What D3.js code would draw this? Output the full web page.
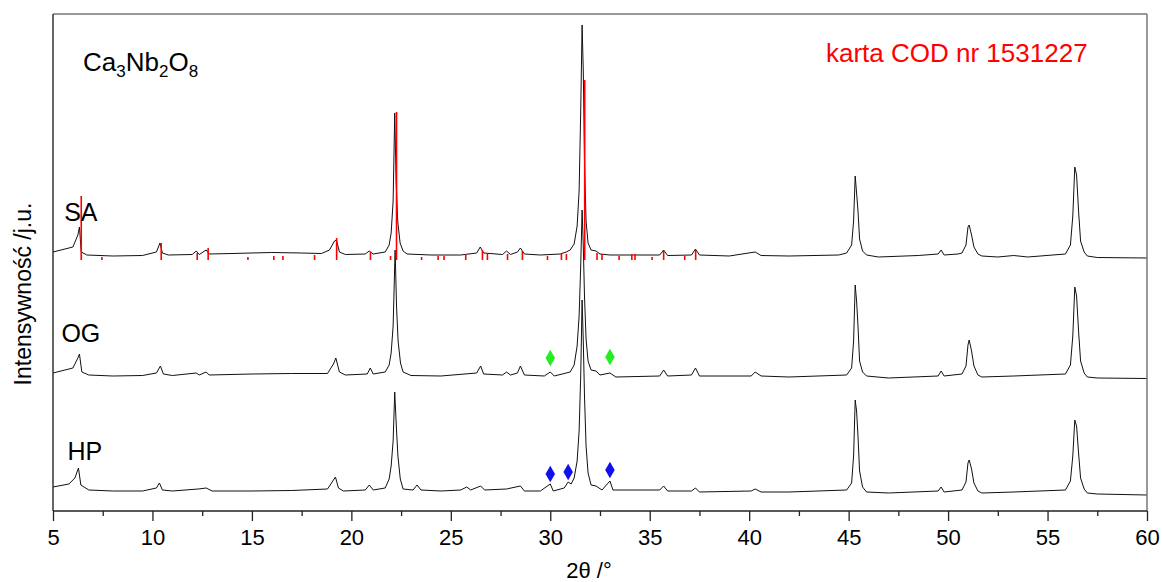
<!DOCTYPE html>
<html lang="pl">
<head>
<meta charset="UTF-8">
<title>Ca3Nb2O8 XRD</title>
<script src="https://cdnjs.cloudflare.com/ajax/libs/d3/7.8.5/d3.min.js"></script>
<style>
    body { margin: 0; background: #fff; }
    svg { display: block; font-family: 'Liberation Sans', Arial, sans-serif; }
    .trace { fill: none; stroke: #111; stroke-width: 1; stroke-linejoin: round; }
    .stick { stroke: #ff0000; stroke-width: 1.6; }
    .axis text { font-size: 22px; fill: #000; font-family: 'Liberation Sans', Arial, sans-serif; }
    .axis path, .axis line { stroke: #222; stroke-width: 1.3; }
</style>
</head>
<body>
<div id="chart"></div>
<script>
// x: 2theta in degrees, y: intensity in arbitrary units (stacked as in the figure)
const xTicks = [5, 10, 15, 20, 25, 30, 35, 40, 45, 50, 55, 60];
const xMinorTicks = [7.5, 12.5, 17.5, 22.5, 27.5, 32.5, 37.5, 42.5, 47.5, 52.5, 57.5];

const sampleNames = ["SA", "OG", "HP"];

const traceSA = [
    [5, 259], [6.0, 264], [6.25, 276], [6.33, 284], [6.42, 259], [6.7, 256], [8, 255], [9.5, 255.5],
    [10.2, 259], [10.38, 268], [10.5, 258], [10.8, 256], [12.0, 256.5], [12.2, 260], [12.35, 256.5],
    [12.7, 261], [12.85, 257], [14, 257.5], [16, 258.5], [17.5, 258], [18.5, 257.5], [18.9, 261],
    [19.15, 270], [19.25, 271], [19.4, 259], [19.7, 256.5], [20.7, 257], [20.9, 260], [21.1, 257],
    [21.7, 259], [21.9, 266], [22.0, 278], [22.1, 310], [22.18, 398], [22.25, 330], [22.33, 290],
    [22.45, 268], [22.6, 260], [22.8, 257], [24, 256], [25.5, 256], [26.3, 258], [26.48, 264],
    [26.65, 258], [27.6, 256.5], [27.8, 260], [28.0, 256.5], [28.35, 259], [28.5, 263], [28.7, 257],
    [29.5, 256], [30.5, 257], [30.8, 259], [31.0, 261], [31.2, 267], [31.35, 285], [31.45, 320],
    [31.53, 400], [31.6, 486], [31.66, 440], [31.72, 350], [31.8, 290], [31.9, 268], [32.05, 261],
    [32.3, 260], [32.5, 257], [33, 256], [35.5, 256], [35.7, 261], [35.9, 255.5], [37.1, 256],
    [37.3, 262], [37.5, 256], [39, 255], [40.3, 259], [40.6, 255.5], [42, 255], [44.5, 256],
    [44.9, 258], [45.15, 266], [45.25, 290], [45.33, 335], [45.4, 318], [45.47, 300], [45.55, 272],
    [45.7, 260], [45.9, 256], [46.5, 254], [48.5, 255.5], [49.5, 257], [49.65, 261], [49.8, 256],
    [50.5, 257], [50.7, 258], [50.9, 266], [51.0, 284], [51.06, 286], [51.18, 276], [51.3, 264],
    [51.5, 257], [51.7, 255], [52.5, 254], [53.3, 255.5], [54, 254], [55.9, 257], [56.15, 266],
    [56.27, 295], [56.37, 344], [56.46, 336], [56.56, 300], [56.66, 270], [56.84, 259], [57.0, 255],
    [57.5, 253.5], [60, 253]
];

const traceOG = [
    [5, 138], [6.0, 143], [6.25, 153], [6.33, 157], [6.45, 139], [6.8, 136], [8, 135], [9.5, 135.5],
    [10.2, 138], [10.4, 145], [10.55, 137], [11, 135.5], [12.2, 138], [12.35, 136], [12.7, 139],
    [12.85, 136], [15, 137], [17, 137.5], [18.8, 137.5], [19.1, 147], [19.22, 153], [19.4, 139],
    [19.7, 136], [20.8, 137], [20.95, 143], [21.1, 137], [21.7, 139], [21.9, 146], [22.0, 158],
    [22.1, 185], [22.2, 261], [22.27, 205], [22.35, 170], [22.47, 148], [22.6, 139], [23, 135.5],
    [24.5, 135], [26.3, 138], [26.5, 145], [26.65, 137], [27.6, 136], [27.8, 139], [28.0, 136],
    [28.35, 138], [28.5, 145], [28.7, 136], [29.7, 135], [30.0, 139], [30.2, 135], [31.0, 139],
    [31.2, 146], [31.35, 165], [31.45, 195], [31.53, 245], [31.6, 301], [31.66, 265], [31.72, 215],
    [31.8, 172], [31.9, 150], [32.05, 141], [32.3, 140], [32.5, 136], [33.0, 138], [33.3, 134],
    [35.5, 135], [35.7, 141], [35.9, 135], [37.1, 136], [37.3, 143], [37.5, 135], [40.1, 135],
    [40.3, 139], [40.6, 135], [42, 134], [44.9, 136], [45.15, 143], [45.25, 170], [45.33, 226],
    [45.4, 210], [45.47, 185], [45.55, 150], [45.7, 139], [45.9, 135], [47, 133], [49.5, 135],
    [49.65, 140], [49.8, 135], [50.7, 137], [50.9, 145], [51.0, 166], [51.06, 171], [51.18, 160],
    [51.3, 145], [51.5, 136], [51.7, 134], [53.3, 135], [55.9, 137], [56.15, 146], [56.27, 175],
    [56.37, 224], [56.46, 215], [56.56, 180], [56.66, 150], [56.84, 138], [57.0, 134], [57.5, 133],
    [60, 132.5]
];

const traceHP = [
    [5, 24], [5.8, 27], [6.1, 33], [6.28, 43], [6.4, 26], [6.8, 21], [8, 20], [9.5, 20],
    [10.2, 23], [10.35, 28], [10.5, 21], [11, 20], [12.3, 22], [12.7, 23], [13, 20], [15, 20],
    [17, 20.5], [18.8, 22], [19.1, 31], [19.2, 34], [19.35, 23], [19.6, 20], [20.7, 21], [20.9, 26],
    [21.1, 21], [21.7, 23], [21.9, 32], [22.0, 45], [22.1, 70], [22.18, 119], [22.26, 85],
    [22.34, 55], [22.46, 32], [22.6, 22], [23.1, 21], [23.3, 26], [23.5, 21], [24.5, 20],
    [25.5, 21], [25.8, 24], [26.0, 21], [26.5, 25], [26.7, 21], [27.8, 22], [28.5, 25], [28.7, 20],
    [29.5, 20], [30.0, 27], [30.15, 20], [30.7, 23], [30.9, 29], [31.05, 27], [31.2, 33],
    [31.35, 50], [31.45, 80], [31.53, 135], [31.6, 211], [31.66, 170], [31.72, 115], [31.8, 65],
    [31.9, 38], [32.05, 26], [32.3, 25], [32.6, 21], [33.0, 30], [33.15, 21], [35.5, 21],
    [35.7, 25], [35.9, 20], [37.1, 20], [37.3, 23], [37.5, 19], [40.1, 20], [40.3, 22], [40.6, 19],
    [42, 19], [44.9, 21], [45.15, 28], [45.25, 55], [45.33, 111], [45.4, 100], [45.47, 75],
    [45.55, 40], [45.7, 24], [45.9, 19], [47, 18], [49.5, 20], [49.65, 24], [49.8, 19], [50.7, 21],
    [50.9, 29], [51.0, 48], [51.06, 51], [51.18, 42], [51.3, 28], [51.5, 20], [51.7, 18], [53.3, 19],
    [55.9, 21], [56.15, 30], [56.27, 55], [56.37, 91], [56.46, 85], [56.56, 58], [56.66, 33],
    [56.84, 22], [57.0, 18], [57.5, 17], [60, 16]
];

// COD card 1531227 reflections: [2theta, top of stick]; sticks start at stickBase
const stickBase = 251;
const codSticks = [
    [6.42, 315], [7.46, 254], [10.44, 268], [12.25, 258], [12.8, 263], [14.8, 254], [16.1, 255],
    [16.56, 255], [18.15, 256], [19.26, 273], [20.96, 259], [21.97, 255], [22.27, 399], [23.53, 254],
    [24.36, 255], [24.66, 255], [25.75, 257], [26.59, 261], [26.84, 257], [27.85, 257], [28.6, 260],
    [29.86, 255], [30.56, 257], [30.81, 257], [31.73, 431], [32.35, 258], [32.6, 257], [33.46, 255],
    [34.1, 257], [34.26, 257], [35.12, 254], [35.7, 260], [36.76, 255], [37.31, 261]
];

// extra phase markers
const greenMarks = [[30.0, 153], [33.0, 154]];
const blueMarks = [[30.0, 37], [30.9, 39], [33.0, 41]];

const labelPos = [[6.4, 290], [6.4, 169], [6.6, 51]];

const width = 1162, height = 582;
const margin = { left: 53, right: 15, top: 14, bottom: 71 };

const svg = d3.select("#chart").append("svg")
    .attr("width", width)
    .attr("height", height);

svg.append("rect").attr("width", width).attr("height", height).attr("fill", "#fff");

const x = d3.scaleLinear().domain([5, 60]).range([margin.left, width - margin.right]);
const y = d3.scaleLinear().domain([0, 497]).range([height - margin.bottom, margin.top]);

svg.append("defs").append("clipPath").attr("id", "plotClip")
    .append("rect")
    .attr("x", margin.left).attr("y", margin.top)
    .attr("width", width - margin.left - margin.right)
    .attr("height", height - margin.top - margin.bottom);

const plot = svg.append("g").attr("clip-path", "url(#plotClip)");

const line = d3.line().x(d => x(d[0])).y(d => y(d[1]));

[traceHP, traceOG, traceSA].forEach(t => {
    plot.append("path").attr("class", "trace").attr("d", line(t));
});

plot.selectAll("line.stick")
    .data(codSticks)
    .enter().append("line")
    .attr("class", "stick")
    .attr("x1", d => x(d[0])).attr("x2", d => x(d[0]))
    .attr("y1", y(stickBase)).attr("y2", d => y(d[1]));

const diamond = d3.symbol().type(d3.symbolDiamond).size(78);
plot.selectAll("path.green")
    .data(greenMarks)
    .enter().append("path")
    .attr("class", "green")
    .attr("d", diamond)
    .attr("fill", "#22ee22")
    .attr("transform", d => `translate(${x(d[0])},${y(d[1])})`);
plot.selectAll("path.blue")
    .data(blueMarks)
    .enter().append("path")
    .attr("class", "blue")
    .attr("d", diamond)
    .attr("fill", "#1010ee")
    .attr("transform", d => `translate(${x(d[0])},${y(d[1])})`);

// axes
const xAxis = d3.axisBottom(x).tickValues(xTicks).tickSize(10).tickPadding(8).tickFormat(d3.format("d"));
const gx = svg.append("g").attr("class", "axis")
    .attr("transform", `translate(0,${height - margin.bottom})`)
    .call(xAxis);
gx.select(".domain").remove();

svg.append("g").attr("class", "axis")
    .attr("transform", `translate(0,${height - margin.bottom})`)
    .call(d3.axisBottom(x).tickValues(xMinorTicks).tickSize(5).tickFormat(""))
    .select(".domain").remove();

// frame
const x0 = margin.left, x1 = width - margin.right, y0 = margin.top, y1 = height - margin.bottom;
svg.append("line").attr("x1", x0).attr("x2", x1).attr("y1", y0).attr("y2", y0).attr("stroke", "#777").attr("stroke-width", 1.5);
svg.append("line").attr("x1", x1).attr("x2", x1).attr("y1", y0).attr("y2", y1).attr("stroke", "#777").attr("stroke-width", 1.5);
svg.append("line").attr("x1", x0).attr("x2", x0).attr("y1", y0).attr("y2", y1).attr("stroke", "#333").attr("stroke-width", 1.5);
svg.append("line").attr("x1", x0).attr("x2", x1).attr("y1", y1).attr("y2", y1).attr("stroke", "#222").attr("stroke-width", 1.5);

// axis titles
svg.append("text")
    .attr("x", 589).attr("y", 578)
    .attr("text-anchor", "middle")
    .attr("font-size", 22)
    .text("2θ /°");

svg.append("text")
    .attr("transform", "translate(31,294) rotate(-90)")
    .attr("text-anchor", "middle")
    .attr("font-size", 23)
    .text("Intensywność /j.u.");

// sample labels
svg.selectAll("text.sample")
    .data(sampleNames)
    .enter().append("text")
    .attr("class", "sample")
    .attr("x", (d, i) => x(labelPos[i][0]))
    .attr("y", (d, i) => y(labelPos[i][1]))
    .attr("text-anchor", "middle")
    .attr("font-size", 25)
    .text(d => d);

// formula with subscripts
const formula = svg.append("text").attr("x", 83).attr("y", 71).attr("font-size", 26);
[["Ca", false], ["3", true], ["Nb", false], ["2", true], ["O", false], ["8", true]].forEach(([t, sub]) => {
    formula.append("tspan")
        .attr("font-size", sub ? 17 : 26)
        .attr("dy", sub ? 6 : (t === "Ca" ? 0 : -6))
        .text(t);
});

svg.append("text")
    .attr("x", 826).attr("y", 62)
    .attr("font-size", 26)
    .attr("fill", "#ff0000")
    .text("karta COD nr 1531227");
</script>
</body>
</html>
